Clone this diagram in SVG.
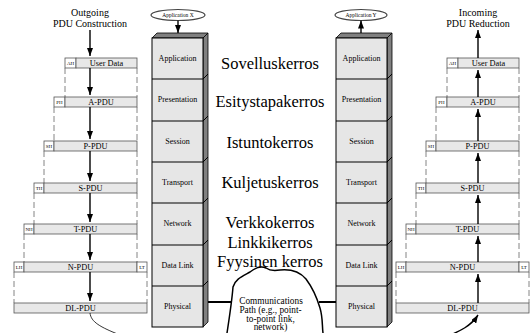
<svg xmlns="http://www.w3.org/2000/svg" width="531" height="333" viewBox="0 0 531 333">
<style>
.t{font-family:"Liberation Serif",serif;text-anchor:middle;fill:#000}
.lay{font-size:8px}
.big{font-size:16.5px}
.cap{font-size:10px}
.pl{font-size:8.3px}
.hl{font-size:5px}
.cl{font-size:9.3px}
.face{fill:#e6e6e6;stroke:#000;stroke-width:1}
.side{fill:#808080;stroke:#000;stroke-width:0.8}
.pdu{fill:#e8e8e8;stroke:#555;stroke-width:0.8}
.hdr{fill:#fff;stroke:#555;stroke-width:0.8}
.dash{stroke:#666;stroke-width:0.8;stroke-dasharray:6 3;fill:none}
.arr{stroke:#000;stroke-width:1.4;fill:none;marker-end:url(#ah)}
.ln{stroke:#000;fill:none}
.ell{fill:#fff;stroke:#444;stroke-width:1.2}
</style>
<defs>
<marker id="ah" markerUnits="userSpaceOnUse" markerWidth="8" markerHeight="6" refX="8" refY="3" orient="auto">
<path d="M0,0 L8,3 L0,6 z" fill="#000"/>
</marker>
</defs>
<rect width="531" height="333" fill="#fff"/>

<g id="labels-left">
<text class="t cap" x="90" y="16">Outgoing</text>
<text class="t cap" x="90" y="27">PDU Construction</text>
</g>
<g id="labels-right">
<text class="t cap" x="478" y="16">Incoming</text>
<text class="t cap" x="478" y="27">PDU Reduction</text>
</g>

<g id="app-x">
<ellipse class="ell" cx="178" cy="15" rx="27" ry="5.5"/>
<text class="t" style="font-size:5.5px" x="178" y="17">Application X</text>
</g>
<g id="app-y">
<ellipse class="ell" cx="361" cy="15" rx="26" ry="5.5"/>
<text class="t" style="font-size:5.5px" x="361" y="17">Application Y</text>
</g>

<g id="stack-left">
<polygon class="side" points="152,38 157,33 208,33 203,38"/>
<polygon class="side" points="203,38 208,33 208,322 203,327"/>
<rect class="face" x="152" y="38" width="51" height="289"/>
<g class="ln" stroke-width="1">
<line x1="152" y1="79" x2="203" y2="79"/><line x1="152" y1="121" x2="203" y2="121"/>
<line x1="152" y1="162" x2="203" y2="162"/><line x1="152" y1="203" x2="203" y2="203"/>
<line x1="152" y1="245" x2="203" y2="245"/><line x1="152" y1="286" x2="203" y2="286"/>
<line x1="203" y1="79" x2="208" y2="74"/><line x1="203" y1="121" x2="208" y2="116"/>
<line x1="203" y1="162" x2="208" y2="157"/><line x1="203" y1="203" x2="208" y2="198"/>
<line x1="203" y1="245" x2="208" y2="240"/><line x1="203" y1="286" x2="208" y2="281"/>
</g>
<text class="t lay" x="177.5" y="61">Application</text>
<text class="t lay" x="177.5" y="102">Presentation</text>
<text class="t lay" x="177.5" y="144">Session</text>
<text class="t lay" x="177.5" y="185">Transport</text>
<text class="t lay" x="177.5" y="226">Network</text>
<text class="t lay" x="177.5" y="268">Data Link</text>
<text class="t lay" x="177.5" y="309">Physical</text>
</g>

<g id="stack-right">
<polygon class="side" points="336,38 341,33 392,33 387,38"/>
<polygon class="side" points="387,38 392,33 392,322 387,327"/>
<rect class="face" x="336" y="38" width="51" height="289"/>
<g class="ln" stroke-width="1">
<line x1="336" y1="79" x2="387" y2="79"/><line x1="336" y1="121" x2="387" y2="121"/>
<line x1="336" y1="162" x2="387" y2="162"/><line x1="336" y1="203" x2="387" y2="203"/>
<line x1="336" y1="245" x2="387" y2="245"/><line x1="336" y1="286" x2="387" y2="286"/>
<line x1="387" y1="79" x2="392" y2="74"/><line x1="387" y1="121" x2="392" y2="116"/>
<line x1="387" y1="162" x2="392" y2="157"/><line x1="387" y1="203" x2="392" y2="198"/>
<line x1="387" y1="245" x2="392" y2="240"/><line x1="387" y1="286" x2="392" y2="281"/>
</g>
<text class="t lay" x="361.5" y="61">Application</text>
<text class="t lay" x="361.5" y="102">Presentation</text>
<text class="t lay" x="361.5" y="144">Session</text>
<text class="t lay" x="361.5" y="185">Transport</text>
<text class="t lay" x="361.5" y="226">Network</text>
<text class="t lay" x="361.5" y="268">Data Link</text>
<text class="t lay" x="361.5" y="309">Physical</text>
</g>

<g id="layer-names">
<text class="t big" x="270" y="69">Sovelluskerros</text>
<text class="t big" x="270" y="107">Esitystapakerros</text>
<text class="t big" x="270" y="148">Istuntokerros</text>
<text class="t big" x="270" y="188">Kuljetuskerros</text>
<text class="t big" x="270" y="228">Verkkokerros</text>
<text class="t big" x="270" y="248">Linkkikerros</text>
<text class="t big" x="270" y="267">Fyysinen kerros</text>
</g>

<g id="cloud">
<path class="ln" stroke-width="1.5" d="M227,333 C229,320 232,300 233,287 C235,279 243,276 250,272 C255,268 260,265 266,268 C270,271 274,271 280,270 C290,269 300,272 306,279 C312,287 317,298 320,308 C323,318 322,326 323,333"/>
<text class="t cl" x="271" y="303.5">Communications</text>
<text class="t cl" x="270.5" y="312.5">Path (e.g., point-</text>
<text class="t cl" x="270.5" y="321.5">to-point link,</text>
<text class="t cl" x="270.5" y="330">network)</text>
</g>

<g id="pdu-left">
<rect class="hdr" x="65" y="58" width="11" height="10"/><rect class="pdu" x="76" y="58" width="61" height="10"/>
<text class="t hl" x="70.5" y="64.8">AH</text><text class="t pl" x="106.5" y="66">User Data</text>
<rect class="hdr" x="54" y="97" width="11" height="10"/><rect class="pdu" x="65" y="97" width="72" height="10"/>
<text class="t hl" x="59.5" y="103.8">PH</text><text class="t pl" x="101" y="105">A-PDU</text>
<rect class="hdr" x="44" y="141" width="10" height="10"/><rect class="pdu" x="54" y="141" width="83" height="10"/>
<text class="t hl" x="49" y="147.8">SH</text><text class="t pl" x="95.5" y="149">P-PDU</text>
<rect class="hdr" x="34" y="183" width="10" height="10"/><rect class="pdu" x="44" y="183" width="93" height="10"/>
<text class="t hl" x="39" y="189.8">TH</text><text class="t pl" x="90.5" y="191">S-PDU</text>
<rect class="hdr" x="24" y="224" width="10" height="10"/><rect class="pdu" x="34" y="224" width="103" height="10"/>
<text class="t hl" x="29" y="230.8">NH</text><text class="t pl" x="85.5" y="232">T-PDU</text>
<rect class="hdr" x="14" y="262" width="10" height="10"/><rect class="pdu" x="24" y="262" width="113" height="10"/><rect class="hdr" x="137" y="262" width="10" height="10"/>
<text class="t hl" x="19" y="268.8">LH</text><text class="t pl" x="80.5" y="270">N-PDU</text><text class="t hl" x="142" y="268.8">LT</text>
<rect class="pdu" x="14" y="303" width="133" height="10"/>
<text class="t pl" x="80.5" y="311">DL-PDU</text>
</g>

<g id="pdu-right">
<rect class="hdr" x="447" y="58" width="11" height="10"/><rect class="pdu" x="458" y="58" width="61" height="10"/>
<text class="t hl" x="452.5" y="64.8">AH</text><text class="t pl" x="488.5" y="66">User Data</text>
<rect class="hdr" x="436" y="97" width="11" height="10"/><rect class="pdu" x="447" y="97" width="72" height="10"/>
<text class="t hl" x="441.5" y="103.8">PH</text><text class="t pl" x="483" y="105">A-PDU</text>
<rect class="hdr" x="426" y="141" width="10" height="10"/><rect class="pdu" x="436" y="141" width="83" height="10"/>
<text class="t hl" x="431" y="147.8">SH</text><text class="t pl" x="477.5" y="149">P-PDU</text>
<rect class="hdr" x="416" y="183" width="10" height="10"/><rect class="pdu" x="426" y="183" width="93" height="10"/>
<text class="t hl" x="421" y="189.8">TH</text><text class="t pl" x="472.5" y="191">S-PDU</text>
<rect class="hdr" x="406" y="224" width="10" height="10"/><rect class="pdu" x="416" y="224" width="103" height="10"/>
<text class="t hl" x="411" y="230.8">NH</text><text class="t pl" x="467.5" y="232">T-PDU</text>
<rect class="hdr" x="396" y="262" width="10" height="10"/><rect class="pdu" x="406" y="262" width="113" height="10"/><rect class="hdr" x="519" y="262" width="10" height="10"/>
<text class="t hl" x="401" y="268.8">LH</text><text class="t pl" x="462.5" y="270">N-PDU</text><text class="t hl" x="524" y="268.8">LT</text>
<rect class="pdu" x="396" y="303" width="133" height="10"/>
<text class="t pl" x="462.5" y="311">DL-PDU</text>
</g>

<g id="connectors">
<path class="dash" d="M65,68V97 M137,68V97 M54,107V141 M137,107V141 M44,151V183 M137,151V183 M34,193V224 M137,193V224 M24,234V262 M137,234V262 M14,272V303 M147,272V303"/>
<path class="dash" d="M447,68V97 M519,68V97 M436,107V141 M519,107V141 M426,151V183 M519,151V183 M416,193V224 M519,193V224 M406,234V262 M519,234V262 M396,272V303 M529,272V303"/>
<line class="arr" x1="90" y1="30" x2="90" y2="56"/>
<line class="arr" x1="90" y1="68" x2="90" y2="95"/>
<line class="arr" x1="90" y1="107" x2="90" y2="139"/>
<line class="arr" x1="90" y1="151" x2="90" y2="181"/>
<line class="arr" x1="90" y1="193" x2="90" y2="222"/>
<line class="arr" x1="90" y1="234" x2="90" y2="260"/>
<line class="arr" x1="90" y1="272" x2="90" y2="301"/>
<line class="arr" x1="478" y1="58" x2="478" y2="30"/>
<line class="arr" x1="478" y1="97" x2="478" y2="70"/>
<line class="arr" x1="478" y1="141" x2="478" y2="109"/>
<line class="arr" x1="478" y1="183" x2="478" y2="153"/>
<line class="arr" x1="478" y1="224" x2="478" y2="195"/>
<line class="arr" x1="478" y1="262" x2="478" y2="236"/>
<line class="arr" x1="478" y1="303" x2="478" y2="274"/>
<line class="arr" x1="178" y1="20.5" x2="178" y2="33"/>
<line class="arr" x1="361" y1="33" x2="361" y2="20.5"/>
<line class="ln" stroke-width="2" x1="208" y1="302" x2="232" y2="302"/>
<line class="ln" stroke-width="2" x1="319" y1="302" x2="336" y2="302"/>
<path class="ln" stroke-width="0.8" d="M90,313 C91,322 100,327 120,335"/>
<path class="arr" stroke-width="0.8" d="M448,336 C460,331 471,326 478,315"/>
</g>
</svg>
